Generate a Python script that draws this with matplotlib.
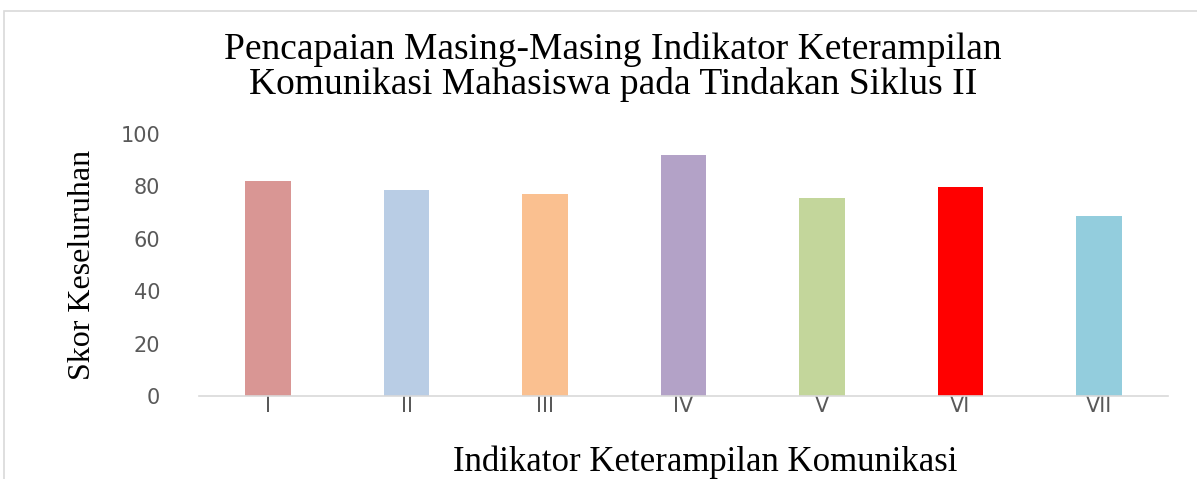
import matplotlib
matplotlib.use("Agg")
import matplotlib.pyplot as plt
from matplotlib.patches import Rectangle

categories = ["I", "II", "III", "IV", "V", "VI", "VII"]
values = [82, 78.5, 77, 92, 75.5, 79.5, 68.5]
colors = ["#D99694", "#B9CDE5", "#FAC090", "#B3A2C7", "#C3D69B", "#FF0000", "#93CDDD"]
yticks = [0, 20, 40, 60, 80, 100]

title = "Pencapaian Masing-Masing Indikator Keterampilan\nKomunikasi Mahasiswa pada Tindakan Siklus II"
ylabel = "Skor Keseluruhan"
xlabel = "Indikator Keterampilan Komunikasi"

W, H = 1197, 479
fig = plt.figure(figsize=(W / 100, H / 100), dpi=100)

# outer chart frame (light grey)
fig.patches.append(Rectangle((4 / W, -0.1), 1.2, (H - 11) / H + 0.1, transform=fig.transFigure,
                             fill=False, edgecolor="#d9d9d9", linewidth=1.2))

left, right, bottom, top = 199, 1168, 396, 133.5
ax = fig.add_axes([left / W, 1 - bottom / H, (right - left) / W, (bottom - top) / H])

x = range(len(categories))
ax.bar(x, values, width=0.33, color=colors)
ax.set_xlim(-0.5, len(categories) - 0.5)
ax.set_ylim(0, 100)
ax.set_yticks(yticks)
ax.set_xticks(list(x))
ax.set_xticklabels(categories)

for s in ["top", "right", "left"]:
    ax.spines[s].set_visible(False)
ax.spines["bottom"].set_color("#d9d9d9")
ax.spines["bottom"].set_linewidth(1.2)
ax.tick_params(axis="both", length=0, labelcolor="#595959", labelsize=15)
ax.tick_params(axis="y", pad=28)
ax.tick_params(axis="x", pad=0)
for lab in ax.get_xticklabels() + ax.get_yticklabels():
    lab.set_family("DejaVu Sans")

fig.text(613 / W, 1 - 67 / H, title, ha="center", va="center", family="Liberation Serif",
         fontsize=27, linespacing=1.02)
fig.text(83 / W, 1 - 265 / H, ylabel, ha="center", va="center", rotation=90,
         family="Liberation Serif", fontsize=23)
fig.text(705 / W, 1 - 462 / H, xlabel, ha="center", va="center", family="Liberation Serif",
         fontsize=25)

fig.savefig("out.png", dpi=100)
